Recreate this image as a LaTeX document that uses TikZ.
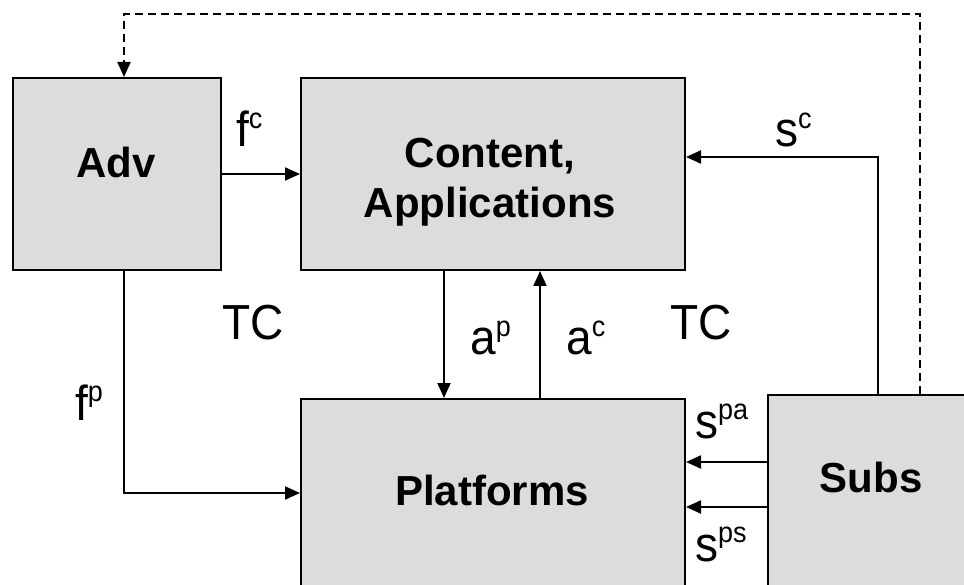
\documentclass[tikz,border=0pt]{standalone}
\usepackage{graphicx}
\usepackage{fontspec}
\setmainfont{Liberation Sans}
\usetikzlibrary{arrows.meta}
\definecolor{boxgray}{RGB}{220,220,220}
% raised small letters for the flow labels
\newcommand\upidx[1]{\raisebox{17.5pt}{\fontsize{27}{27}\selectfont #1}}
% flow labels are set slightly taller than wide
\newcommand\tall[1]{\scalebox{1}[1.07]{#1}}
\begin{document}
\begin{tikzpicture}[x=1pt,y=-1pt,
  box/.style={draw=black, line width=2pt, fill=boxgray, anchor=north west, inner sep=0pt},
  conn/.style={line width=2pt, -{Triangle[length=15pt,width=13pt]}},
  boldtxt/.style={font=\fontsize{42}{50}\selectfont\bfseries, inner sep=0pt, anchor=base},
  lbl/.style={font=\fontsize{46}{50}\selectfont, inner sep=0pt, anchor=base west}]
\useasboundingbox (0,0) rectangle (964,585);

% boxes
\node[box, minimum width=208pt, minimum height=192pt] (adv) at (12,77) {};
\node[box, minimum width=384pt, minimum height=192pt] (content) at (300,77) {};
\node[box, minimum width=384pt, minimum height=240pt] (plat) at (300,398) {};
\node[box, minimum width=240pt, minimum height=240pt] (subs) at (767,394) {};

% box titles
\node[boldtxt] (advt) at (116,178) {Adv};
\node[boldtxt] (cont1) at (490,168) {Content,};
\node[boldtxt] (cont2) at (490,218) {Applications};
\node[boldtxt] (platt) at (492,505) {Platforms};
\node[boldtxt] (subst) at (871,492) {Subs};

% port coordinates
\coordinate (fpx) at (124,493);
\coordinate (apx) at (444,0);
\coordinate (acx) at (540,0);
\coordinate (scc) at (878,157);
\coordinate (spa) at (0,462);
\coordinate (sps) at (0,507);
\coordinate (dright) at (920,14);
\coordinate (dleft) at (124,14);

% flows
\draw[conn] (adv) -- (content);
\draw[conn] (adv.south -| fpx) |- (plat.west |- fpx);
\draw[conn] (content.south -| apx) -- (plat.north -| apx);
\draw[conn] (plat.north -| acx) -- (content.south -| acx);
\draw[conn] (subs.north -| scc) |- (content.east |- scc);
\draw[conn] (subs.west |- spa) -- (plat.east |- spa);
\draw[conn] (subs.west |- sps) -- (plat.east |- sps);
\draw[conn, dash pattern=on 8pt off 5pt] (subs.north -| dright) -- (dright) -- (dleft) -- (adv.north -| dleft);

% flow labels
\node[lbl] (fc) at (236,147) {\tall{f\upidx{c}}};
\node[lbl] (fp) at (75,420) {\tall{f\upidx{p}}};
\node[lbl] (tc1) at (222,340) {\tall{TC}};
\node[lbl] (tc2) at (670,340) {\tall{TC}};
\node[lbl] (ap) at (470,355) {\tall{a\upidx{p}}};
\node[lbl] (ac) at (566,355) {\tall{a\upidx{c}}};
\node[lbl] (sc) at (775,147) {\tall{s\upidx{c}}};
\node[lbl] (spal) at (695,438) {\tall{s\upidx{pa}}};
\node[lbl] (spsl) at (695,561) {\tall{s\upidx{ps}}};
\end{tikzpicture}
\end{document}
